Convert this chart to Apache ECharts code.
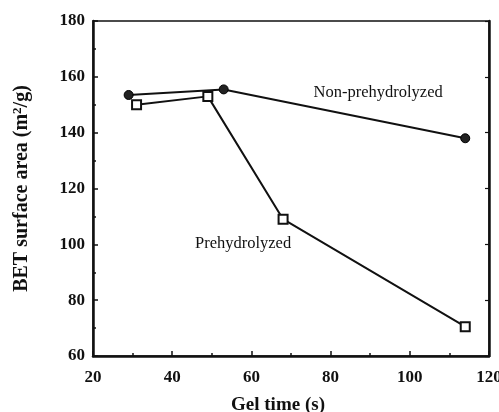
<!DOCTYPE html>
<html>
<head>
<meta charset="utf-8">
<script src="https://cdn.jsdelivr.net/npm/echarts@6/dist/echarts.min.js"></script>
<style>
  html, body { margin: 0; padding: 0; background: #fff; }
  #chart { width: 499px; height: 412px; }
</style>
</head>
<body>
<div id="chart"></div>
<script>
// Gel time (s) vs BET surface area (m2/g)
const nonPrehydrolyzedTime = [29, 53, 114];
const nonPrehydrolyzedArea = [153.5, 155.5, 138];
const prehydrolyzedTime = [31, 49, 68, 114];
const prehydrolyzedArea = [150, 153, 109, 70.5];
const xTicks = [20, 40, 60, 80, 100, 120];
const yTicks = [60, 80, 100, 120, 140, 160, 180];
const seriesNames = ['Non-prehydrolyzed', 'Prehydrolyzed'];

const pairs = (xs, ys) => xs.map((x, i) => [x, ys[i]]);
const serif = '"Liberation Serif", "DejaVu Serif", serif';

const axisLabelStyle = { fontFamily: serif, fontWeight: 'bold', fontSize: 17, color: '#111' };

const chart = echarts.init(document.getElementById('chart'));
chart.setOption({
  animation: false,
  backgroundColor: '#fff',
  grid: {
    left: 93, right: 10, top: 21, bottom: 56,
    outerBoundsMode: 'none', containLabel: false,
    show: true, borderColor: '#111', borderWidth: 1.5
  },
  xAxis: {
    type: 'value',
    min: xTicks[0], max: xTicks[xTicks.length - 1], interval: 20,
    axisLine: { lineStyle: { color: '#111', width: 2.5 } },
    axisTick: { inside: true, length: 5, lineStyle: { color: '#111', width: 1.5 } },
    minorTick: { show: true, splitNumber: 2, length: 3, lineStyle: { color: '#111', width: 1.5 } },
    splitLine: { show: false },
    axisLabel: Object.assign({ margin: 13 }, axisLabelStyle),
    name: 'Gel time (s)',
    nameLocation: 'middle',
    nameGap: 40,
    nameTextStyle: { fontFamily: serif, fontWeight: 'bold', fontSize: 19, color: '#111', padding: [0, 0, 0, -26] }
  },
  yAxis: [{
    type: 'value',
    min: yTicks[0], max: yTicks[yTicks.length - 1], interval: 20,
    axisLine: { lineStyle: { color: '#111', width: 2.5 } },
    axisTick: { inside: true, length: 5, lineStyle: { color: '#111', width: 1.5 } },
    minorTick: { show: true, splitNumber: 2, length: 3, lineStyle: { color: '#111', width: 1.5 } },
    splitLine: { show: false },
    axisLabel: Object.assign({ margin: 8 }, axisLabelStyle),
    name: 'BET surface area (m{sup|2}/g)',
    nameLocation: 'middle',
    nameGap: 60,
    nameTextStyle: {
      fontFamily: serif, fontWeight: 'bold', fontSize: 20, color: '#111',
      rich: { sup: { fontFamily: serif, fontWeight: 'bold', fontSize: 13, verticalAlign: 'top', padding: [0, 0, 9, 0], color: '#111' } }
    }
  }, {
    type: 'value',
    position: 'right',
    min: yTicks[0], max: yTicks[yTicks.length - 1], interval: 20,
    axisLine: { show: true, lineStyle: { color: '#111', width: 2.5 } },
    axisTick: { show: true, inside: true, length: 4, lineStyle: { color: '#111', width: 1.2 } },
    axisLabel: { show: false },
    splitLine: { show: false }
  }],
  series: [
    {
      name: seriesNames[0],
      type: 'line',
      data: pairs(nonPrehydrolyzedTime, nonPrehydrolyzedArea),
      symbol: 'circle',
      symbolSize: 9,
      itemStyle: { color: '#222', borderColor: '#000', borderWidth: 1 },
      lineStyle: { color: '#111', width: 2 },
      markPoint: {
        symbol: 'circle', symbolSize: 0,
        data: [{ coord: [92, 154.2] }],
        label: { show: true, formatter: seriesNames[0], fontFamily: serif, fontSize: 16.5, color: '#111' }
      }
    },
    {
      name: seriesNames[1],
      type: 'line',
      data: pairs(prehydrolyzedTime, prehydrolyzedArea),
      symbol: 'rect',
      symbolSize: 9,
      itemStyle: { color: '#fff', borderColor: '#111', borderWidth: 2 },
      lineStyle: { color: '#111', width: 2 },
      z: 3,
      markPoint: {
        symbol: 'circle', symbolSize: 0,
        data: [{ coord: [57.9, 100.4] }],
        label: { show: true, formatter: seriesNames[1], fontFamily: serif, fontSize: 16.5, color: '#111' }
      }
    }
  ]
});
</script>
</body>
</html>
